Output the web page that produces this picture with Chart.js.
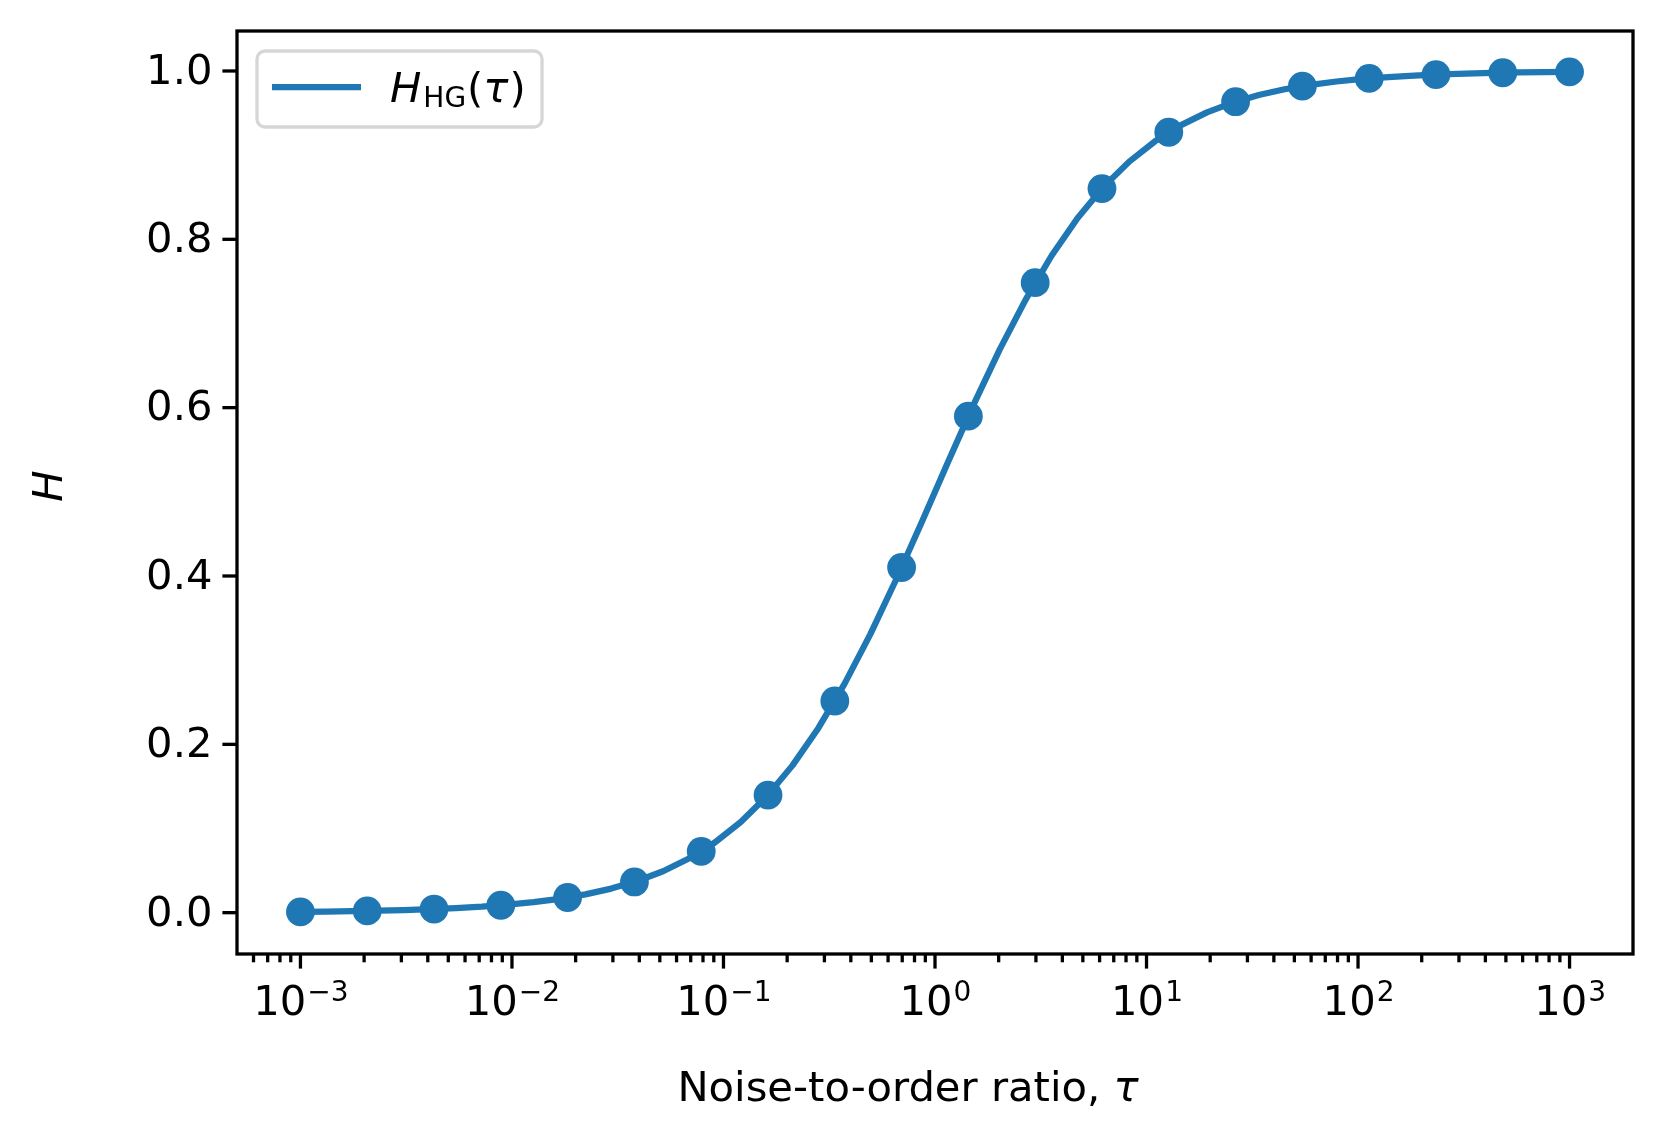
<!DOCTYPE html>
<html>
<head>
<meta charset="utf-8">
<script src="https://cdn.jsdelivr.net/npm/chart.js@4.4.1/dist/chart.umd.min.js"></script>
<style>
  html, body { margin: 0; padding: 0; background: #fff; }
  canvas { display: block; }
</style>
</head>
<body>
<canvas id="myChart" width="1662" height="1140"></canvas>
<script>
// marker points (tau, H)
var markerTau = [0.001, 0.002069, 0.004281, 0.008859, 0.01833, 0.03793, 0.07848, 0.1624, 0.336, 0.6952,
                 1.438, 2.976, 6.158, 12.74, 26.37, 54.56, 112.9, 233.6, 483.3, 1000];
var markerH = [0.001, 0.0021, 0.0043, 0.0088, 0.018, 0.0365, 0.0728, 0.1397, 0.2515, 0.4101,
               0.5899, 0.7485, 0.8603, 0.9272, 0.9635, 0.982, 0.9912, 0.9957, 0.9979, 0.999];

// smooth curve H_HG(tau)
var curveTau = [0.001, 0.001326, 0.001758, 0.00233, 0.003089, 0.004095, 0.005429, 0.007197, 0.009541, 0.01265,
                0.01677, 0.02223, 0.02947, 0.03907, 0.0518, 0.06866, 0.09103, 0.1207, 0.16, 0.2121,
                0.2812, 0.3728, 0.4942, 0.6551, 0.8685, 1.151, 1.526, 2.024, 2.683, 3.556,
                4.715, 6.251, 8.286, 10.98, 14.56, 19.31, 25.6, 33.93, 44.98, 59.64,
                79.06, 104.8, 138.9, 184.2, 244.2, 323.7, 429.2, 569, 754.3, 1000];
var curveH = [0.001, 0.0013, 0.0018, 0.0023, 0.0031, 0.0041, 0.0054, 0.0071, 0.0095, 0.0125,
              0.0165, 0.0217, 0.0286, 0.0376, 0.0492, 0.0643, 0.0834, 0.1077, 0.1379, 0.175,
              0.2195, 0.2716, 0.3307, 0.3958, 0.4648, 0.5352, 0.6042, 0.6693, 0.7284, 0.7805,
              0.825, 0.8621, 0.8923, 0.9166, 0.9357, 0.9508, 0.9624, 0.9714, 0.9783, 0.9835,
              0.9875, 0.9905, 0.9928, 0.9946, 0.9959, 0.9969, 0.9977, 0.9982, 0.9987, 0.999];

var yTicks = [0.0, 0.2, 0.4, 0.6, 0.8, 1.0];
var yTickLabels = ['0.0', '0.2', '0.4', '0.6', '0.8', '1.0'];
var xTickExps = [-3, -2, -1, 0, 1, 2, 3];
var xTickExpLabels = ['\u22123', '\u22122', '\u22121', '0', '1', '2', '3'];

var seriesLabel = 'H_HG(\u03c4)';
var xTitle = 'Noise-to-order ratio, ';
var yTitle = 'H';

var blue = '#1f77b4';
var FONT = '"DejaVu Sans", "Liberation Sans", sans-serif';
var FS = 41.7;
var SUB = 28;

function pts(xs, ys) {
    var out = [];
    for (var i = 0; i < xs.length; i++) out.push({x: xs[i], y: ys[i]});
    return out;
}

var axesPlugin = {
    id: 'mplAxes',
    afterDraw: function(chart) {
        var c = chart.ctx;
        var a = chart.chartArea;
        var sx = chart.scales.x, sy = chart.scales.y;
        var majorLen = 14.6, minorLen = 8.3, tw = 3.3;
        c.save();
        c.strokeStyle = '#000';
        c.fillStyle = '#000';
        c.lineWidth = tw;
        c.lineCap = 'butt';

        // y ticks + labels
        c.font = FS + 'px ' + FONT;
        c.textAlign = 'right';
        c.textBaseline = 'middle';
        yTicks.forEach(function(v, i) {
            var py = sy.getPixelForValue(v);
            c.beginPath();
            c.moveTo(a.left, py);
            c.lineTo(a.left - majorLen, py);
            c.stroke();
            c.fillText(yTickLabels[i], a.left - majorLen - 10, py + 2);
        });

        // x minor ticks
        for (var e = -4; e <= 3; e++) {
            for (var m = 2; m <= 9; m++) {
                var v = m * Math.pow(10, e);
                if (v <= sx.min || v >= sx.max) continue;
                var px = sx.getPixelForValue(v);
                c.beginPath();
                c.moveTo(px, a.bottom);
                c.lineTo(px, a.bottom + minorLen);
                c.stroke();
            }
        }

        // x major ticks + labels 10^n
        c.textBaseline = 'alphabetic';
        c.textAlign = 'left';
        xTickExps.forEach(function(e, i) {
            var px = sx.getPixelForValue(Math.pow(10, e));
            c.beginPath();
            c.moveTo(px, a.bottom);
            c.lineTo(px, a.bottom + majorLen);
            c.stroke();
            c.font = FS + 'px ' + FONT;
            var wBase = c.measureText('10').width;
            c.font = SUB + 'px ' + FONT;
            var wExp = c.measureText(xTickExpLabels[i]).width;
            var x0 = px - (wBase + wExp) / 2;
            c.font = FS + 'px ' + FONT;
            c.fillText('10', x0, 1015);
            c.font = SUB + 'px ' + FONT;
            c.fillText(xTickExpLabels[i], x0 + wBase + 1, 1001);
        });

        // spines
        c.lineWidth = tw;
        c.lineJoin = 'miter';
        c.strokeRect(a.left, a.top, a.right - a.left, a.bottom - a.top);

        // x title
        c.font = FS + 'px ' + FONT;
        var w1 = c.measureText(xTitle).width;
        c.font = 'italic ' + FS + 'px ' + FONT;
        var w2 = c.measureText('\u03c4').width;
        var tx = 908 - (w1 + w2) / 2;
        c.font = FS + 'px ' + FONT;
        c.fillText(xTitle, tx, 1101);
        c.font = 'italic ' + FS + 'px ' + FONT;
        c.fillText('\u03c4', tx + w1, 1101);

        // y title
        c.save();
        c.translate(62, 486);
        c.rotate(-Math.PI / 2);
        c.textAlign = 'center';
        c.font = 'italic ' + FS + 'px ' + FONT;
        c.fillText(yTitle, 0, 0);
        c.restore();

        // legend
        c.fillStyle = 'rgba(255,255,255,0.8)';
        c.strokeStyle = '#d6d6d6';
        c.lineWidth = 3.3;
        c.beginPath();
        c.roundRect(257, 51, 285, 76, 8);
        c.fill();
        c.stroke();
        c.strokeStyle = blue;
        c.lineWidth = 6.25;
        c.beginPath();
        c.moveTo(272, 87);
        c.lineTo(361, 87);
        c.stroke();
        c.fillStyle = '#000';
        c.textAlign = 'left';
        var lx = 390, base = 101.5;
        c.font = 'italic ' + FS + 'px ' + FONT;
        c.fillText('H', lx, base);
        lx += c.measureText('H').width + 2;
        c.font = SUB + 'px ' + FONT;
        c.fillText('HG', lx, base + 5);
        lx += c.measureText('HG').width + 1;
        c.font = FS + 'px ' + FONT;
        c.fillText('(', lx, base);
        lx += c.measureText('(').width;
        c.font = 'italic ' + FS + 'px ' + FONT;
        c.fillText('\u03c4', lx, base);
        lx += c.measureText('\u03c4').width + 1;
        c.font = FS + 'px ' + FONT;
        c.fillText(')', lx, base);
        c.restore();
    }
};

var ctx = document.getElementById('myChart').getContext('2d');
var myChart = new Chart(ctx, {
    type: 'line',
    data: {
        datasets: [{
            label: 'points',
            data: pts(markerTau, markerH),
            showLine: false,
            pointRadius: 14.4,
            pointBackgroundColor: blue,
            pointBorderWidth: 0,
            order: 0
        }, {
            label: seriesLabel,
            data: pts(curveTau, curveH),
            borderColor: blue,
            borderWidth: 6.25,
            borderJoinStyle: 'round',
            pointRadius: 0,
            tension: 0,
            fill: false,
            order: 1
        }]
    },
    options: {
        responsive: false,
        animation: false,
        devicePixelRatio: 1,
        layout: { padding: { left: 237, right: 29, top: 31, bottom: 186 } },
        plugins: {
            legend: { display: false },
            tooltip: { enabled: false }
        },
        scales: {
            x: { type: 'logarithmic', min: 5.0e-4 * 1.0025, max: 1995, display: false },
            y: { type: 'linear', min: -0.0491, max: 1.0475, display: false }
        }
    },
    plugins: [axesPlugin]
});
</script>
</body>
</html>
